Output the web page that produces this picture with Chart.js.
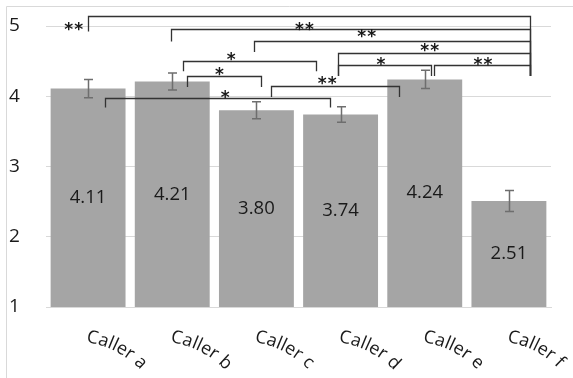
<!DOCTYPE html>
<html><head><meta charset="utf-8">
<script src="https://cdn.jsdelivr.net/npm/chart.js@4"></script>
<style>html,body{margin:0;padding:0;background:#fff;} canvas{display:block;}</style>
</head><body>
<canvas id="c" width="573" height="378"></canvas>
<script>
// ---- data ----
const categories = ['Caller a', 'Caller b', 'Caller c', 'Caller d', 'Caller e', 'Caller f'];
const means = [4.11, 4.21, 3.80, 3.74, 4.24, 2.51];
const errors = [0.13, 0.12, 0.12, 0.11, 0.13, 0.15];
const valueLabels = ['4.11', '4.21', '3.80', '3.74', '4.24', '2.51'];
const yTicks = [1, 2, 3, 4, 5];
// significance brackets, in category-index / value units
const bracketFrom  = [0.00, 0.99, 1.97, 2.97, 2.97, 4.11, 1.13, 1.18, 2.17, 0.20];
const bracketTo    = [5.25, 5.25, 5.25, 5.25, 4.07, 5.25, 2.71, 2.05, 3.69, 2.87];
const bracketLevel = [5.14, 4.955, 4.79, 4.62, 4.45, 4.45, 4.50, 4.29, 4.14, 3.98];
const bracketLegL  = [4.92, 4.78, 4.63, 4.29, 4.29, 4.29, 4.357, 4.13, 3.99, 3.84];
const bracketLegR  = [4.29, 4.29, 4.29, 4.29, 4.29, 4.29, 4.357, 4.13, 3.99, 3.84];
const bracketText  = ['**', '**', '**', '**', '*', '**', '*', '*', '**', '*'];
const bracketTextX = [-0.17, 2.57, 3.31, 4.06, 3.48, 4.69, 1.70, 1.56, 2.84, 1.63];
const bracketTextY = [5.01, 5.01, 4.90, 4.70, 4.51, 4.51, 4.585, 4.37, 4.24, 4.04];

const FONT = '"Open Sans", "DejaVu Sans", sans-serif';

const framePlugin = {
  id: 'frame',
  beforeDraw(chart) {
    const ctx = chart.ctx;
    ctx.save();
    ctx.strokeStyle = '#d9d9d9';
    ctx.lineWidth = 1;
    ctx.beginPath();
    ctx.moveTo(6.5, chart.height);
    ctx.lineTo(6.5, 6.5);
    ctx.lineTo(chart.width, 6.5);
    ctx.stroke();
    ctx.restore();
  }
};

const overlayPlugin = {
  id: 'overlay',
  afterDatasetsDraw(chart) {
    const ctx = chart.ctx;
    const xs = chart.scales.x, ys = chart.scales.y;
    const meta = chart.getDatasetMeta(0);
    ctx.save();
    // error bars
    ctx.strokeStyle = '#6e6e6e';
    ctx.lineWidth = 1.5;
    meta.data.forEach((bar, i) => {
      const x = Math.round(bar.x) + 0.5;
      const yt = ys.getPixelForValue(means[i] + errors[i]);
      const yb = ys.getPixelForValue(means[i] - errors[i]);
      ctx.beginPath();
      ctx.moveTo(x, yt); ctx.lineTo(x, yb);
      ctx.moveTo(x - 4.5, yt); ctx.lineTo(x + 4.5, yt);
      ctx.moveTo(x - 4.5, yb); ctx.lineTo(x + 4.5, yb);
      ctx.stroke();
    });
    // value labels
    ctx.fillStyle = '#1a1a1a';
    ctx.font = '18.5px ' + FONT;
    ctx.textAlign = 'center';
    ctx.textBaseline = 'middle';
    meta.data.forEach((bar, i) => {
      const y = (ys.getPixelForValue(means[i]) + ys.getPixelForValue(ys.min)) / 2;
      ctx.fillText(valueLabels[i], bar.x, y);
    });
    // brackets
    ctx.strokeStyle = '#333333';
    ctx.lineWidth = 1.3;
    for (let k = 0; k < bracketFrom.length; k++) {
      const x1 = Math.round(xs.getPixelForValue(bracketFrom[k])) + 0.5;
      const x2 = Math.round(xs.getPixelForValue(bracketTo[k])) + 0.5;
      const y = Math.round(ys.getPixelForValue(bracketLevel[k])) + 0.5;
      const yl = ys.getPixelForValue(bracketLegL[k]);
      const yr = ys.getPixelForValue(bracketLegR[k]);
      ctx.beginPath();
      ctx.moveTo(x1, yl); ctx.lineTo(x1, y); ctx.lineTo(x2, y); ctx.lineTo(x2, yr);
      ctx.stroke();
    }
    // asterisks
    ctx.fillStyle = '#1a1a1a';
    const asz = 17;
    ctx.font = 'bold ' + asz + 'px "DejaVu Sans"';
    ctx.textBaseline = 'alphabetic';
    ctx.textAlign = 'center';
    for (let k = 0; k < bracketText.length; k++) {
      const cx = xs.getPixelForValue(bracketTextX[k]);
      const cy = ys.getPixelForValue(bracketTextY[k]);
      const n = bracketText[k].length;
      for (let j = 0; j < n; j++) {
        const ax = cx + (j - (n - 1) / 2) * 10;
        ctx.fillText('*', ax, cy + 0.55 * asz);
      }
    }
    ctx.restore();
  },
  afterDraw(chart) {
    // curved category labels
    const ctx = chart.ctx;
    const xs = chart.scales.x;
    const labels = xs.getLabels();
    ctx.save();
    ctx.fillStyle = '#1a1a1a';
    ctx.font = '18px ' + FONT;
    ctx.textAlign = 'left';
    ctx.textBaseline = 'alphabetic';
    const a0 = 8 * Math.PI / 180, a1 = 46 * Math.PI / 180;
    labels.forEach((lab, i) => {
      const total = ctx.measureText(lab).width;
      let px = xs.getPixelForValue(i) - 2;
      let py = xs.top + 35;
      let s = 0;
      for (const ch of lab) {
        const w = ctx.measureText(ch).width;
        const ang = a0 + (a1 - a0) * ((s + w / 2) / total);
        ctx.save();
        ctx.translate(px, py);
        ctx.rotate(ang);
        ctx.fillText(ch, 0, 0);
        ctx.restore();
        px += w * Math.cos(ang);
        py += w * Math.sin(ang);
        s += w;
      }
    });
    ctx.restore();
  }
};

new Chart(document.getElementById('c'), {
  type: 'bar',
  data: {
    labels: categories,
    datasets: [{
      data: means,
      backgroundColor: '#a5a5a5',
      borderWidth: 0,
      barPercentage: 0.89,
      categoryPercentage: 1.0
    }]
  },
  options: {
    responsive: false,
    devicePixelRatio: 1,
    animation: false,
    layout: { padding: { left: 9, top: 26, right: 22, bottom: 0 } },
    plugins: { legend: { display: false }, tooltip: { enabled: false } },
    scales: {
      x: {
        grid: { display: false },
        border: { display: true, color: '#d9d9d9' },
        ticks: { display: false },
        afterFit(s) { s.height = 71; }
      },
      y: {
        min: 1, max: 5,
        afterBuildTicks(s) { s.ticks = yTicks.map(v => ({ value: v })); },
        grid: { color: '#d9d9d9', drawTicks: false },
        border: { display: false },
        ticks: { crossAlign: 'far', padding: 0, color: '#1a1a1a', font: { size: 19, family: FONT } },
        afterFit(s) { s.width = 37; }
      }
    }
  },
  plugins: [framePlugin, overlayPlugin]
});
</script>
</body></html>
